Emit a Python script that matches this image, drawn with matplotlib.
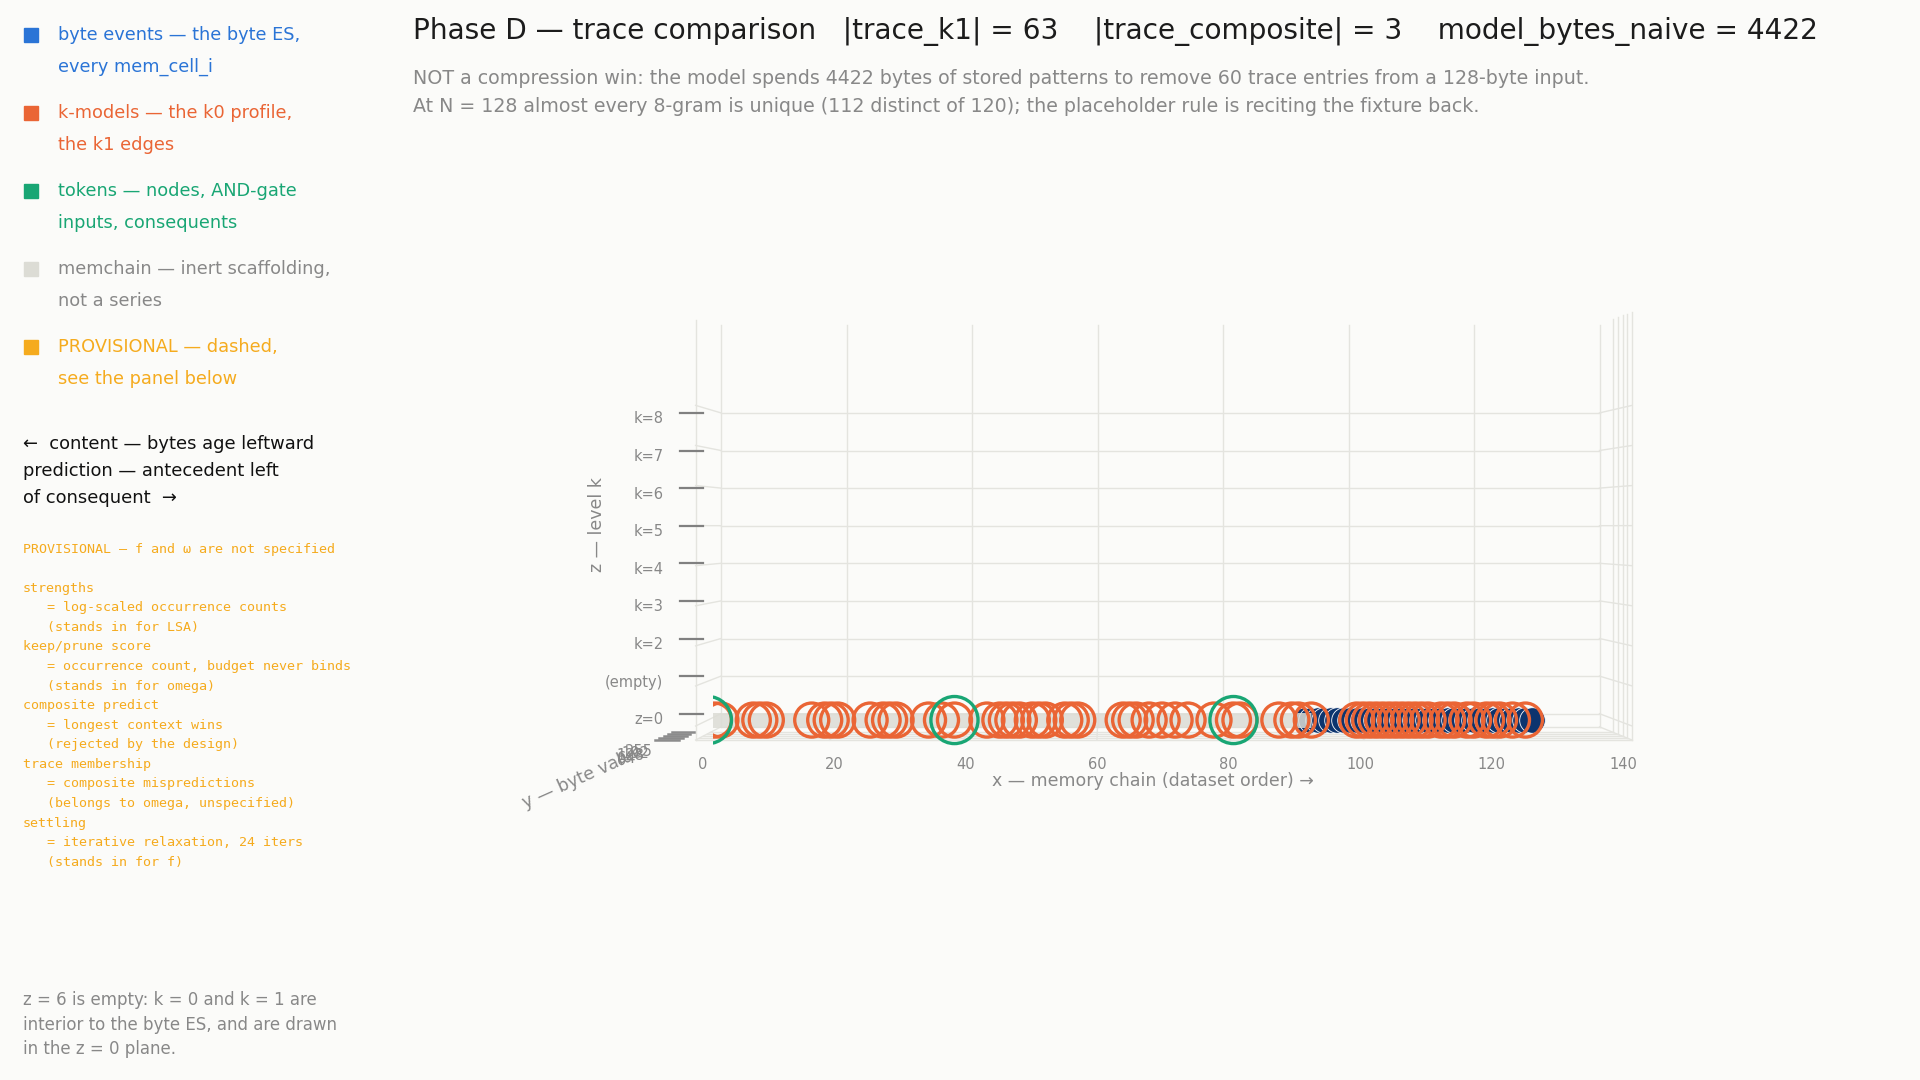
import numpy as np
import matplotlib.pyplot as plt
from matplotlib.patches import Rectangle

W, H = 1920, 1080

# memory-chain index of every trace entry
trace_k1 = [1, 2, 7, 8, 9, 16, 18, 19, 20, 25, 27, 28, 29, 34, 36, 38,
            43, 45, 46, 47, 48, 50, 51, 52, 55, 56, 57, 64, 65, 66, 68, 70,
            72, 74, 78, 81, 82, 88, 90, 91, 93, 100, 101, 102, 103, 104, 105,
            106, 107, 108, 109, 110, 111, 113, 114, 115, 117, 118, 120, 121,
            122, 124, 126]
trace_composite = [0, 38, 81]
byte_events = list(range(92, 128))
memchain = list(range(0, 94))

z_levels = [0, 1, 2, 3, 4, 5, 6, 7, 8]
z_labels = ['z=0', '(empty)', 'k=2', 'k=3', 'k=4', 'k=5', 'k=6', 'k=7', 'k=8']
x_ticks = [0, 20, 40, 60, 80, 100, 120, 140]
y_ticks = [0, 64, 128, 192, 255]

BG = '#fbfbf9'
BLUE = '#2a74d6'
NAVY = '#0c346e'
ORANGE = '#ea6535'
GREEN = '#19a674'
SCAFF = '#dcdcd5'
AMBER = '#f5ab1e'
GREY = '#888888'
GRID = '#e4e4df'

# camera: back wall screen mapping, vanishing point, depth factors
PX0, PXU = 721, 6.275
PY0, PYU = 713.7, 37.6
VPX, VPY = 1106, 527
S_MARK, S_FRONT, S_TICK = 1.034, 1.066, 1.048
Z_MIN, Z_MAX = -0.35, 10.34
VX, VZ = (VPX - PX0) / PXU, (PY0 - VPY) / PYU


def at(x, z, s):
    # 3-D point (x, z) at depth factor s -> data coords of the marker plane
    k = np.asarray(s, float) / S_MARK
    return VX + k * (np.asarray(x, float) - VX), VZ + k * (np.asarray(z, float) - VZ)


def depth(b):
    return S_FRONT - (S_FRONT - 1.028) * b / 255


def to_x(px):
    return (px - (VPX + S_MARK * (PX0 - VPX))) / (S_MARK * PXU)


def to_z(py):
    return ((VPY + S_MARK * (PY0 - VPY)) - py) / (S_MARK * PYU)


def ftext(x, y, s, **kw):
    plt.gcf().text(x / W, 1 - y / H, s, va='center', ha='left', **kw)


def draw_scene(ax):
    line = dict(color=GRID, lw=1.0, zorder=0, clip_on=False)
    for xt in x_ticks:
        ax.plot(*at([xt, xt], [Z_MIN, Z_MAX], 1.0), **line)
        ax.plot(*at([xt, xt], [Z_MIN, Z_MIN], [1.0, S_FRONT]), **line)
    for k in z_levels:
        ax.plot(*at([0, 140], [k, k], 1.0), **line)
        ax.plot(*at([140, 140], [k, k], [1.0, S_FRONT]), **line)
        ax.plot(*at([0, 0], [k, k], [1.0, S_FRONT]), **line)
    ax.plot(*at([0, 140], [Z_MIN, Z_MIN], 1.0), **line)
    ax.plot(*at([0, 0], [Z_MIN, Z_MAX - 0.2], S_FRONT), **line)
    for b in y_ticks:
        s = depth(b)
        ax.plot(*at([0, 140], [Z_MIN, Z_MIN], s), **line)
        ax.plot(*at([140, 140], [Z_MIN, Z_MAX], s), **line)
        ax.plot(*at([-6.0, -2.5], [Z_MIN, Z_MIN], s), color='#8c8c8c', lw=1.8,
                clip_on=False)
        ax.text(*at(-11, Z_MIN - 0.5, s), str(b), color=GREY, fontsize=10.5,
                ha='center', va='center', clip_on=False)

    for k, lab in zip(z_levels, z_labels):
        ax.plot(*at([-6.5, -2.9], [k, k], 1.0), color='#808080', lw=1.6, clip_on=False)
        ax.text(*at(-9.2, k - 0.16, 1.0), lab, color=GREY, fontsize=10.5,
                ha='right', va='center', clip_on=False)
    for xt in x_ticks:
        ax.text(*at(xt, -1.07, S_TICK), str(xt), color=GREY, fontsize=10.5,
                ha='center', va='center', clip_on=False)

    ax.text(*at(68.8, -1.79, 1.0), 'x — memory chain (dataset order) →', color=GREY,
            fontsize=12.5, ha='center', va='center', clip_on=False)
    ax.text(*at(-19.8, 5.02, 1.0), 'z — level k', color=GREY, fontsize=12.5,
            rotation=90, ha='center', va='center', clip_on=False)
    ax.text(*at(-22, -1.68, 1.0), 'y — byte value', color=GREY, fontsize=12.5,
            rotation=24, ha='center', va='center', clip_on=False)

    ax.scatter(byte_events, np.zeros(len(byte_events)), s=340, c=NAVY,
               edgecolors='white', linewidths=0.6, zorder=2)
    ax.plot(memchain, np.zeros(len(memchain)), color=SCAFF, lw=10.8, alpha=0.85,
            solid_capstyle='butt', zorder=3)
    ax.scatter(trace_k1, np.zeros(len(trace_k1)), s=600, facecolors='none',
               edgecolors=ORANGE, linewidths=2.4, zorder=4)
    ax.scatter(trace_composite, np.zeros(len(trace_composite)), s=1150,
               facecolors='none', edgecolors=GREEN, linewidths=2.4, zorder=5)


def draw_side(fig):
    legend = [(BLUE, BLUE, ['byte events — the byte ES,', 'every mem_cell_i']),
              (ORANGE, ORANGE, ['k-models — the k0 profile,', 'the k1 edges']),
              (GREEN, GREEN, ['tokens — nodes, AND-gate', 'inputs, consequents']),
              (SCAFF, GREY, ['memchain — inert scaffolding,', 'not a series']),
              (AMBER, AMBER, ['PROVISIONAL — dashed,', 'see the panel below'])]
    for i, (sq, col, lines) in enumerate(legend):
        y = 35 + 78 * i
        fig.patches.append(Rectangle((24 / W, 1 - (y + 7) / H), 14 / W, 14 / H,
                                     transform=fig.transFigure, color=sq))
        for j, t in enumerate(lines):
            ftext(58, y + 32 * j, t, color=col, fontsize=12.75)

    notes = ['←  content — bytes age leftward', 'prediction — antecedent left',
             'of consequent  →']
    for j, t in enumerate(notes):
        ftext(23, 444 + 27 * j, t, color='#111111', fontsize=12.9)

    prov = ['PROVISIONAL — f and ω are not specified', '',
            'strengths', '   = log-scaled occurrence counts', '   (stands in for LSA)',
            'keep/prune score', '   = occurrence count, budget never binds',
            '   (stands in for omega)',
            'composite predict', '   = longest context wins', '   (rejected by the design)',
            'trace membership', '   = composite mispredictions',
            '   (belongs to omega, unspecified)',
            'settling', '   = iterative relaxation, 24 iters', '   (stands in for f)']
    for j, t in enumerate(prov):
        ftext(23, 549 + 19.58 * j, t, color=AMBER, fontsize=9.6, family='DejaVu Sans Mono')

    foot = ['z = 6 is empty: k = 0 and k = 1 are', 'interior to the byte ES, and are drawn',
            'in the z = 0 plane.']
    for j, t in enumerate(foot):
        ftext(23, 1000 + 24.5 * j, t, color=GREY, fontsize=12)

    ftext(413, 32, 'Phase D — trace comparison   |trace_k1| = 63    '
          '|trace_composite| = 3    model_bytes_naive = 4422', color='#1c1c1c', fontsize=20.2)
    ftext(413, 78, 'NOT a compression win: the model spends 4422 bytes of stored patterns '
          'to remove 60 trace entries from a 128-byte input.', color=GREY, fontsize=13.7)
    ftext(413, 106, 'At N = 128 almost every 8-gram is unique (112 distinct of 120); '
          'the placeholder rule is reciting the fixture back.', color=GREY, fontsize=13.7)


def main():
    fig = plt.figure(figsize=(W / 100, H / 100), dpi=100, facecolor=BG)
    left, right, top, bottom = 713, 1700, 270, 860
    ax = fig.add_axes([left / W, 1 - bottom / H, (right - left) / W, (bottom - top) / H])
    ax.set_xlim(to_x(left), to_x(right))
    ax.set_ylim(to_z(bottom), to_z(top))
    ax.axis('off')
    draw_scene(ax)
    draw_side(fig)
    fig.savefig('out.png', dpi=100, facecolor=BG)
    plt.close(fig)


if __name__ == '__main__':
    main()
